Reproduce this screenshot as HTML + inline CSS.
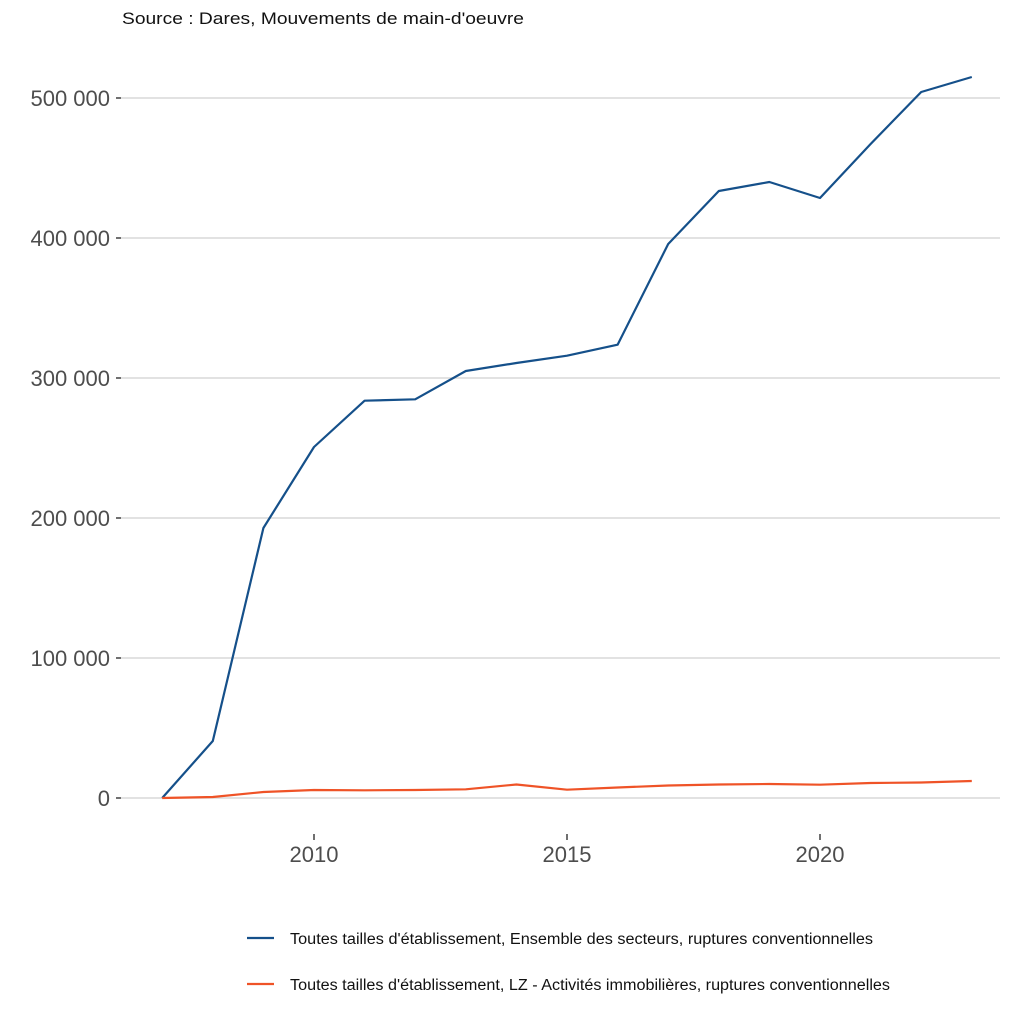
<!DOCTYPE html>
<html><head><meta charset="utf-8"><style>
html,body{margin:0;padding:0;background:#fff;}
svg{display:block;font-family:"Liberation Sans",Arial,sans-serif;}
</style></head><body>
<svg width="1024" height="1024" viewBox="0 0 1024 1024" xmlns="http://www.w3.org/2000/svg">
<text x="122" y="24" font-size="17" fill="#111" textLength="402" lengthAdjust="spacingAndGlyphs">Source : Dares, Mouvements de main-d'oeuvre</text>
<g stroke="#d9d9d9" stroke-width="1.6">
<line x1="121" x2="1000" y1="98" y2="98"/>
<line x1="121" x2="1000" y1="238" y2="238"/>
<line x1="121" x2="1000" y1="378" y2="378"/>
<line x1="121" x2="1000" y1="518" y2="518"/>
<line x1="121" x2="1000" y1="658" y2="658"/>
<line x1="121" x2="1000" y1="798" y2="798"/>
</g>
<g stroke="#333" stroke-width="1.4">
<line x1="116" x2="121" y1="98" y2="98"/>
<line x1="116" x2="121" y1="238" y2="238"/>
<line x1="116" x2="121" y1="378" y2="378"/>
<line x1="116" x2="121" y1="518" y2="518"/>
<line x1="116" x2="121" y1="658" y2="658"/>
<line x1="116" x2="121" y1="798" y2="798"/>
<line x1="314" x2="314" y1="834" y2="840"/>
<line x1="567" x2="567" y1="834" y2="840"/>
<line x1="820" x2="820" y1="834" y2="840"/>
</g>
<g font-size="22" fill="#4d4d4d" text-anchor="end">
<text x="110" y="106">500 000</text>
<text x="110" y="246">400 000</text>
<text x="110" y="386">300 000</text>
<text x="110" y="526">200 000</text>
<text x="110" y="666">100 000</text>
<text x="110" y="806">0</text>
</g>
<g font-size="22" fill="#4d4d4d" text-anchor="middle">
<text x="314" y="862">2010</text>
<text x="567" y="862">2015</text>
<text x="820" y="862">2020</text>
</g>
<polyline fill="none" stroke="#15508a" stroke-width="2.2" stroke-linejoin="round"
points="162.2,798 212.8,741 263.4,528 314,447 364.6,400.7 415.2,399.3 465.8,371 516.4,363 567,355.7 617.6,344.7 668.2,244 718.8,191 769.4,182 820,198 870.6,144 921.2,92 971.8,77"/>
<polyline fill="none" stroke="#ef5327" stroke-width="2.2" stroke-linejoin="round"
points="162.2,798 212.8,797 263.4,792 314,790 364.6,790.3 415.2,790 465.8,789.3 516.4,784.5 567,789.7 617.6,787.5 668.2,785.5 718.8,784.5 769.4,784 820,784.7 870.6,783 921.2,782.5 971.8,781"/>
<line x1="247" x2="274" y1="938" y2="938" stroke="#15508a" stroke-width="2.2"/>
<line x1="247" x2="274" y1="984" y2="984" stroke="#ef5327" stroke-width="2.2"/>
<g font-size="15.5" fill="#111">
<text x="290" y="944" textLength="583" lengthAdjust="spacingAndGlyphs">Toutes tailles d'établissement, Ensemble des secteurs, ruptures conventionnelles</text>
<text x="290" y="990" textLength="600" lengthAdjust="spacingAndGlyphs">Toutes tailles d'établissement, LZ - Activités immobilières, ruptures conventionnelles</text>
</g>
</svg>
</body></html>
